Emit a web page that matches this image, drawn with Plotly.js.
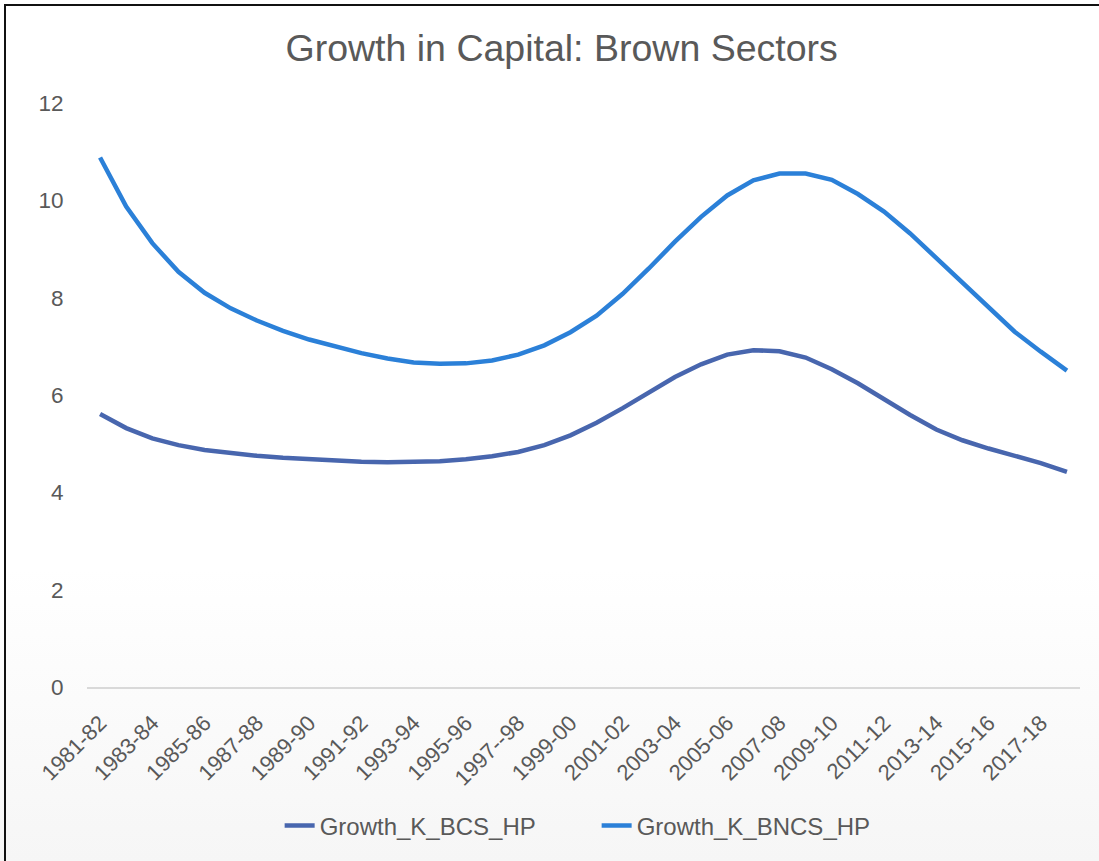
<!DOCTYPE html>
<html>
<head>
<meta charset="utf-8">
<script src="https://cdn.plot.ly/plotly-3.0.1.min.js"></script>
<style>
  html, body { margin: 0; padding: 0; }
  body { width: 1099px; height: 861px; overflow: hidden; position: relative;
         background: linear-gradient(180deg, #ffffff 0%, #ffffff 66%, #f6f6f6 100%); }
  #chart { position: absolute; left: 0; top: 0; width: 1099px; height: 861px; }
  #frame { position: absolute; left: 4px; top: 4px; width: 1100px; height: 870px;
           border-top: 2px solid #111; border-left: 2px solid #111; pointer-events: none; }
</style>
</head>
<body>
<div id="chart"></div>
<div id="frame"></div>
<script>
const years = [
  "1981-82","1982-83","1983-84","1984-85","1985-86","1986-87","1987-88","1988-89",
  "1989-90","1990-91","1991-92","1992-93","1993-94","1994-95","1995-96","1996-97",
  "1997--98","1998-99","1999-00","2000-01","2001-02","2002-03","2003-04","2004-05",
  "2005-06","2006-07","2007-08","2008-09","2009-10","2010-11","2011-12","2012-13",
  "2013-14","2014-15","2015-16","2016-17","2017-18","2018-19"
];
const growthBCS = [
  5.61, 5.32, 5.11, 4.97, 4.87, 4.80, 4.75, 4.71, 4.68, 4.65,
  4.63, 4.62, 4.62, 4.64, 4.68, 4.74, 4.83, 4.97, 5.17, 5.43,
  5.73, 6.05, 6.37, 6.63, 6.83, 6.92, 6.90, 6.77, 6.53, 6.24,
  5.91, 5.59, 5.29, 5.07, 4.90, 4.75, 4.60, 4.42
];
const growthBNCS = [
  10.88, 9.87, 9.12, 8.53, 8.10, 7.78, 7.53, 7.32, 7.14, 6.99,
  6.86, 6.75, 6.67, 6.64, 6.65, 6.71, 6.83, 7.02, 7.29, 7.63,
  8.08, 8.60, 9.15, 9.66, 10.10, 10.41, 10.55, 10.55, 10.42, 10.13,
  9.77, 9.32, 8.81, 8.29, 7.78, 7.30, 6.89, 6.50
];
const seriesNames = ["Growth_K_BCS_HP", "Growth_K_BNCS_HP"];
const yTicks = [0, 2, 4, 6, 8, 10, 12];
const xTickLabels = years.filter((_, i) => i % 2 === 0 && i < years.length - 1);

const textColor = "#595959";
const font = "Liberation Sans, Arial, sans-serif";

const traces = [
  { x: years, y: growthBCS, name: seriesNames[0], type: "scatter", mode: "lines",
    line: { color: "#4866AE", width: 4.5 } },
  { x: years, y: growthBNCS, name: seriesNames[1], type: "scatter", mode: "lines",
    line: { color: "#2B80D8", width: 4.5 } }
];

const layout = {
  width: 1099, height: 861,
  paper_bgcolor: "rgba(0,0,0,0)", plot_bgcolor: "rgba(0,0,0,0)",
  margin: { l: 87, r: 19, t: 103, b: 174 },
  font: { family: font, color: textColor },
  title: { text: "Growth in Capital: Brown Sectors", font: { size: 37.5, color: textColor, family: font },
           xref: "paper", x: 0.478, xanchor: "center", yref: "container", y: 1 - 48/861, yanchor: "middle" },
  xaxis: {
    type: "category", range: [-0.5, years.length - 0.5],
    tickmode: "array", tickvals: xTickLabels, ticktext: xTickLabels,
    tickangle: -45, tickfont: { size: 22, color: textColor },
    showgrid: false, zeroline: false,
    showline: true, linecolor: "#d9d9d9", linewidth: 1.5,
    ticks: "outside", ticklen: 13, tickcolor: "rgba(0,0,0,0)"
  },
  yaxis: {
    range: [0, 12], tickvals: yTicks, ticktext: yTicks.map(String),
    tickfont: { size: 22.5, color: textColor },
    showgrid: false, zeroline: false, showline: false,
    ticks: "outside", ticklen: 18, tickcolor: "rgba(0,0,0,0)"
  },
  showlegend: true,
  legend: { orientation: "h", x: 0.194, xanchor: "left", y: -0.238, yanchor: "middle",
            font: { size: 24, color: textColor }, bgcolor: "rgba(0,0,0,0)",
            itemwidth: 30, entrywidth: 272, entrywidthmode: "pixels" }
};

Plotly.newPlot("chart", traces, layout, { displayModeBar: false, staticPlot: true });
</script>
</body>
</html>
